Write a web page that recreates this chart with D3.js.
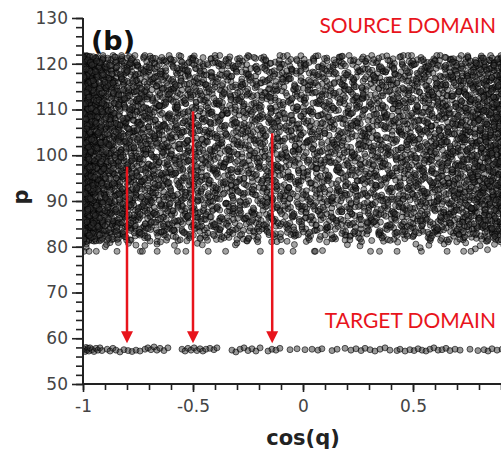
<html lang="en">
	<head>
		<meta charset="UTF-8">
		<title>p vs cos(q)</title>
		<style>
			body { margin: 0; background: #fff; }
			.tick text { font-family: "DejaVu Sans", sans-serif; }
		</style>
	</head>
	<body>
		<svg id="viz"></svg>
	</body>
	<script src="https://d3js.org/d3.v7.min.js"></script>
	<script>
// ---- data ----
var xDomain = [-1, 1];
var yDomain = [50, 130];
var xTickValues = [-1, -0.5, 0, 0.5];
var yTickValues = [50, 60, 70, 80, 90, 100, 110, 120, 130];

// source domain: band of samples, q uniform so cos(q) piles up near -1
var sourceCount = 6800;
var sourceQRange = [0, Math.PI];
// p density by band (lower edge is ragged), [pLow, pHigh, relative weight]
var sourcePBands = [
	[79.0, 80.0, 0.08],
	[80.0, 81.0, 0.25],
	[81.0, 82.5, 0.7],
	[82.5, 121.8, 1.0]
];

// target domain points [cos(q), p]
var targetPoints = [
	[-0.995, 57.6], [-0.99, 57.1], [-0.986, 58.0], [-0.982, 57.4], [-0.977, 57.8],
	[-0.973, 57.2], [-0.968, 57.9], [-0.959, 57.5], [-0.95, 57.1], [-0.941, 57.8],
	[-0.932, 57.4], [-0.923, 57.9], [-0.914, 57.3], [-0.89, 57.6], [-0.877, 57.2],
	[-0.864, 57.8], [-0.85, 57.4], [-0.832, 57.0], [-0.814, 57.5], [-0.795, 57.3],
	[-0.777, 57.1], [-0.759, 57.4], [-0.741, 57.2], [-0.718, 57.6], [-0.705, 57.9],
	[-0.691, 57.5], [-0.677, 58.1], [-0.664, 57.4], [-0.65, 57.8], [-0.632, 57.3],
	[-0.614, 57.9], [-0.55, 57.6], [-0.536, 57.2], [-0.523, 57.8], [-0.509, 57.4],
	[-0.495, 57.9], [-0.482, 57.3], [-0.468, 57.7], [-0.455, 57.2], [-0.441, 57.6],
	[-0.423, 57.8], [-0.405, 57.5], [-0.391, 57.9], [-0.323, 57.4], [-0.305, 57.0],
	[-0.286, 57.6], [-0.268, 57.9], [-0.25, 57.3], [-0.232, 57.7], [-0.214, 57.2],
	[-0.195, 57.9], [-0.159, 57.2], [-0.141, 57.6], [-0.123, 57.4], [-0.105, 57.8],
	[-0.059, 57.5], [-0.027, 57.7], [0.009, 57.5], [0.041, 57.6], [0.068, 57.4],
	[0.086, 57.7], [0.132, 57.3], [0.155, 57.6], [0.191, 57.8], [0.218, 57.4],
	[0.241, 57.7], [0.264, 57.3], [0.282, 57.8], [0.305, 57.5], [0.327, 57.2],
	[0.35, 57.6], [0.373, 57.9], [0.395, 57.4], [0.427, 57.3], [0.441, 57.6],
	[0.464, 57.2], [0.486, 57.5], [0.505, 57.3], [0.523, 57.7], [0.541, 57.4],
	[0.559, 57.2], [0.577, 57.6], [0.595, 57.9], [0.614, 57.4], [0.632, 57.5],
	[0.65, 57.8], [0.668, 57.3], [0.691, 57.6], [0.714, 57.4], [0.759, 57.6],
	[0.795, 57.3], [0.823, 57.5], [0.841, 57.2], [0.859, 57.7], [0.882, 57.4],
	[0.905, 57.6], [0.93, 57.3]
];

// red arrows: x, p start, p tip
var arrowX = [-0.8, -0.5, -0.14];
var arrowFrom = [97.5, 109.6, 104.8];
var arrowTo = [58.9, 58.9, 58.9];

// ---- layout ----
var width = 501;
var height = 451;
var margin = {left: 83, top: 18, bottom: 67};

var svg = d3.select("#viz").attr("width", width).attr("height", height);

var x = d3.scaleLinear().domain(xDomain).range([margin.left, margin.left + 440]);
var y = d3.scaleLinear().domain(yDomain).range([height - margin.bottom, margin.top]);

// low discrepancy sequence, with a jitter from two more bases so no lattice shows
function halton(i, b) {
	var f = 1, r = 0;
	while (i > 0) {
		f = f / b;
		r = r + f * (i % b);
		i = Math.floor(i / b);
	}
	return r;
}

var bandTotal = d3.sum(sourcePBands, function(d) { return (d[1] - d[0]) * d[2]; });
function pFromU(u) {
	u = Math.min(1, Math.max(0, u));
	var t = u * bandTotal;
	for (var k = 0; k < sourcePBands.length; k++) {
		var b = sourcePBands[k];
		var w = (b[1] - b[0]) * b[2];
		if (t <= w) return b[0] + (t / w) * (b[1] - b[0]);
		t -= w;
	}
	return sourcePBands[sourcePBands.length - 1][1];
}

var sourcePoints = [];
for (var i = 1; i <= sourceCount; i++) {
	var u = halton(i, 2) + (halton(i, 5) - 0.5) * 0.02;
	var v = halton(i, 3) + (halton(i, 7) - 0.5) * 0.03;
	u = Math.min(1, Math.max(0, u));
	var q = sourceQRange[0] + u * (sourceQRange[1] - sourceQRange[0]);
	sourcePoints.push([-Math.cos(q), pFromU(v)]);
}

svg.append("defs").append("clipPath").attr("id", "plotclip")
	.append("rect")
	.attr("x", margin.left).attr("y", margin.top)
	.attr("width", width - margin.left).attr("height", height - margin.bottom - margin.top);

var plot = svg.append("g").attr("clip-path", "url(#plotclip)");

plot.append("g").attr("class", "source")
	.selectAll("circle")
	.data(sourcePoints)
	.enter()
	.append("circle")
	.attr("cx", function(d) { return x(d[0]); })
	.attr("cy", function(d) { return y(d[1]); })
	.attr("r", 3)
	.attr("fill", "#333")
	.attr("fill-opacity", 0.45)
	.attr("stroke", "#000")
	.attr("stroke-opacity", 0.65)
	.attr("stroke-width", 0.9);

plot.append("g").attr("class", "target")
	.selectAll("circle")
	.data(targetPoints)
	.enter()
	.append("circle")
	.attr("cx", function(d) { return x(d[0]); })
	.attr("cy", function(d) { return y(d[1]); })
	.attr("r", 3)
	.attr("fill", "#333")
	.attr("fill-opacity", 0.5)
	.attr("stroke", "#000")
	.attr("stroke-opacity", 0.65)
	.attr("stroke-width", 0.9);

// arrows
var arrows = svg.append("g").attr("class", "arrows")
	.selectAll("g")
	.data(arrowX)
	.enter()
	.append("g");

arrows.append("line")
	.attr("x1", function(d) { return x(d); })
	.attr("x2", function(d) { return x(d); })
	.attr("y1", function(d, i) { return y(arrowFrom[i]); })
	.attr("y2", function(d, i) { return y(arrowTo[i]) - 10; })
	.attr("stroke", "#e8141c")
	.attr("stroke-width", 2.5);

arrows.append("path")
	.attr("d", function(d, i) {
		var tx = x(d), ty = y(arrowTo[i]);
		return "M" + (tx - 6) + "," + (ty - 12) + "L" + (tx + 6) + "," + (ty - 12) + "L" + tx + "," + ty + "Z";
	})
	.attr("fill", "#e8141c");

// axes
var yAxis = d3.axisLeft(y).tickValues(yTickValues).tickSize(11).tickFormat(d3.format("d"));
var yMinor = d3.axisLeft(y).tickValues(d3.range(50, 131, 2)).tickSize(7).tickFormat("");
var xAxis = d3.axisBottom(x).tickValues(xTickValues).tickSize(8).tickFormat(function(d) { return d == 0 ? "0" : String(d); });
var xMinor = d3.axisBottom(x).tickValues(d3.range(-10, 10).map(function(k) { return k / 10; })).tickSize(6).tickFormat("");

var gyMinor = svg.append("g").attr("transform", "translate(" + margin.left + ",0)").call(yMinor);
var gy = svg.append("g").attr("transform", "translate(" + margin.left + ",0)").call(yAxis);
var gxMinor = svg.append("g").attr("transform", "translate(0," + y(50) + ")").call(xMinor);
var gx = svg.append("g").attr("transform", "translate(0," + y(50) + ")").call(xAxis);

[gy, gyMinor, gx, gxMinor].forEach(function(g) {
	g.selectAll(".tick line").attr("stroke", "#222").attr("stroke-width", 1.6);
	g.select(".domain").attr("stroke", "#222").attr("stroke-width", 2);
});
gyMinor.select(".domain").remove();
gxMinor.select(".domain").remove();
gx.select(".domain").attr("d", "M" + margin.left + ",0H" + (width + 5));
gy.select(".domain").attr("d", "M0," + y(130) + "V" + y(50));

gy.selectAll(".tick text")
	.attr("x", -15)
	.attr("font-size", 17)
	.attr("fill", "#444");
gx.selectAll(".tick text")
	.attr("y", 16)
	.attr("font-size", 17)
	.attr("fill", "#444");

// labels
svg.append("text")
	.attr("x", 303).attr("y", 445)
	.attr("text-anchor", "middle")
	.style("font-family", "DejaVu Sans, sans-serif")
	.style("font-weight", "bold")
	.style("font-size", "21px")
	.attr("fill", "#222")
	.text("cos(q)");

svg.append("text")
	.attr("transform", "translate(28,197) rotate(-90)")
	.attr("text-anchor", "middle")
	.style("font-family", "DejaVu Sans, sans-serif")
	.style("font-weight", "bold")
	.style("font-size", "21px")
	.attr("fill", "#222")
	.text("p");

svg.append("text")
	.attr("x", 91).attr("y", 50)
	.style("font-family", "DejaVu Sans, sans-serif")
	.style("font-weight", "bold")
	.style("font-size", "27px")
	.attr("fill", "#111")
	.text("(b)");

svg.append("text")
	.attr("x", 496).attr("y", 33)
	.attr("text-anchor", "end")
	.style("font-family", "Lato, sans-serif")
	.style("font-size", "21px")
	.attr("fill", "#e8141c")
	.text("SOURCE DOMAIN");

svg.append("text")
	.attr("x", 496).attr("y", 328)
	.attr("text-anchor", "end")
	.style("font-family", "Lato, sans-serif")
	.style("font-size", "21px")
	.attr("fill", "#e8141c")
	.text("TARGET DOMAIN");
	</script>
</html>
